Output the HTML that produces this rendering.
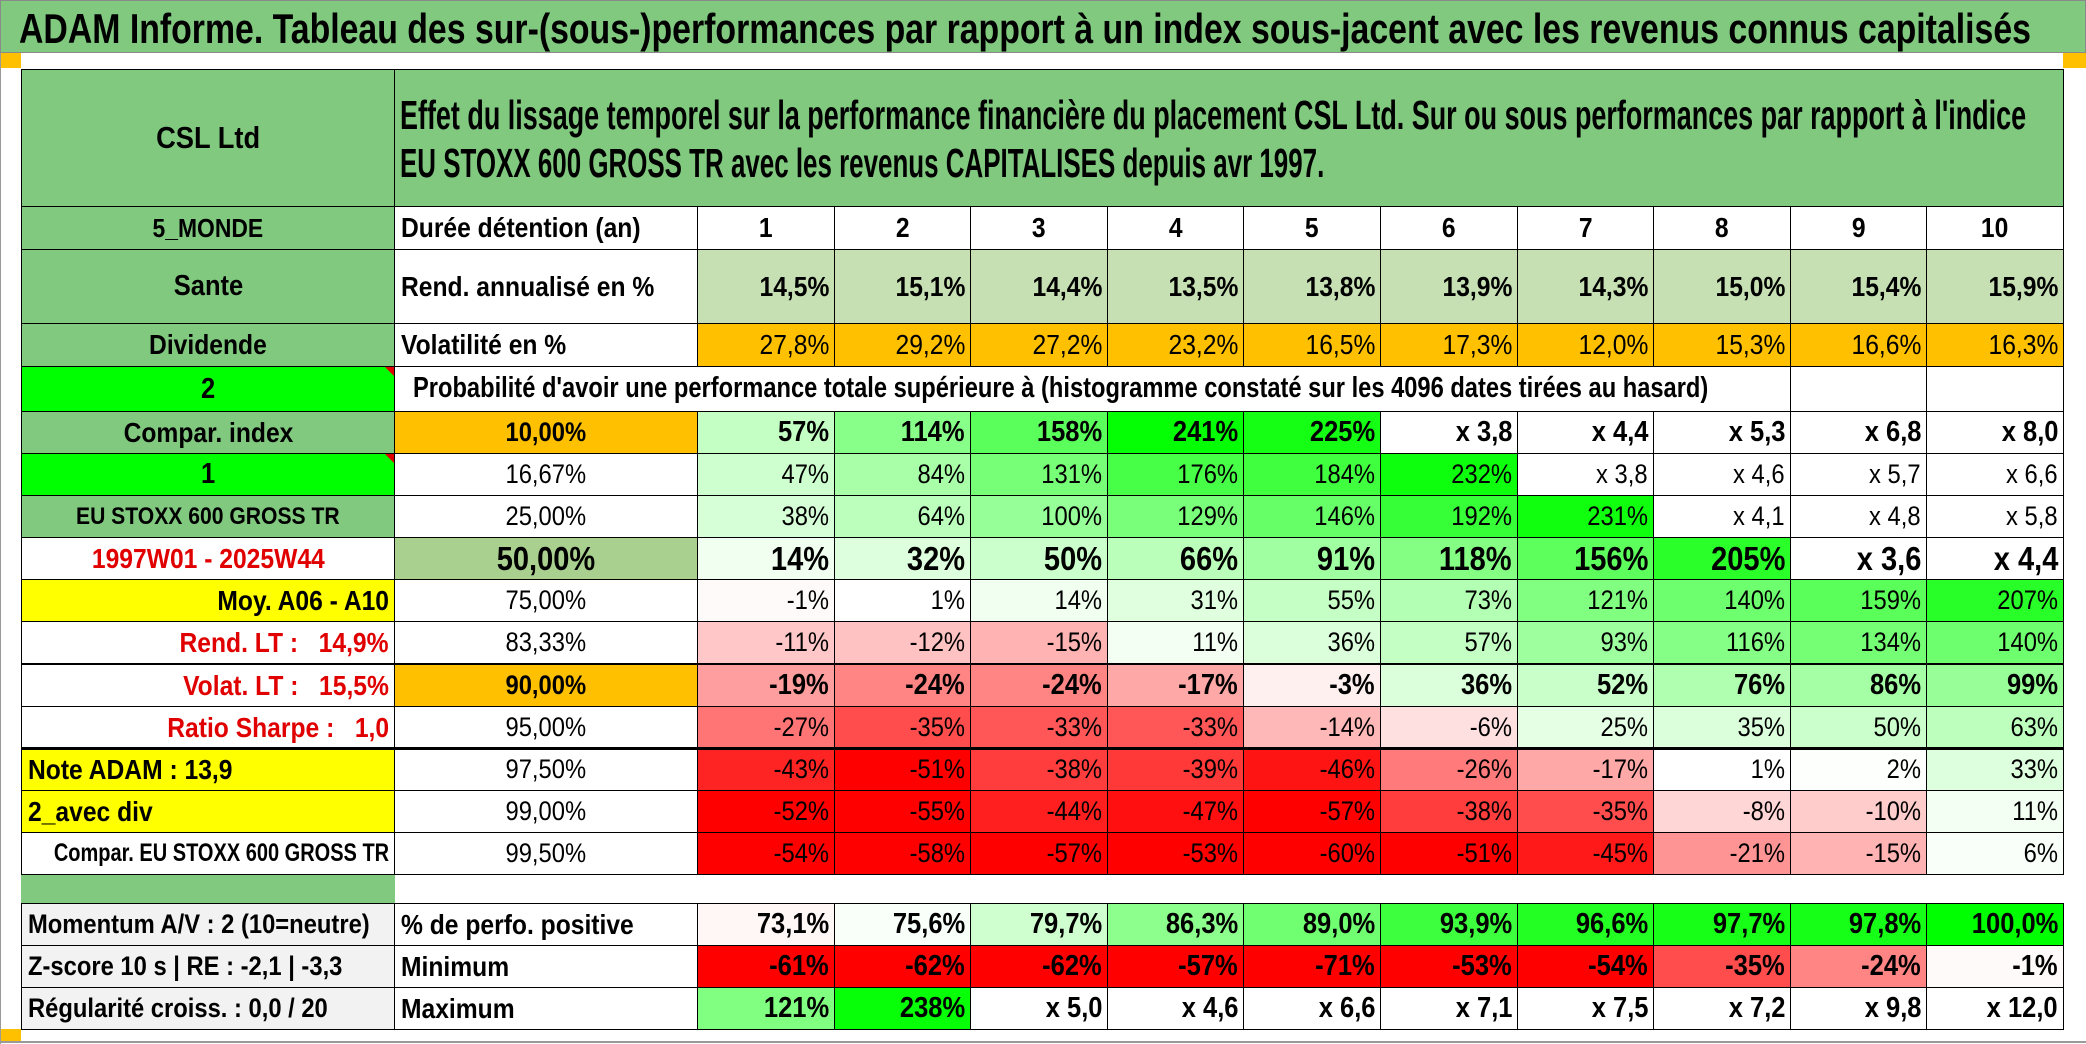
<!DOCTYPE html>
<html><head><meta charset="utf-8">
<style>
html,body{margin:0;padding:0;background:#fff;}
#root{position:relative;width:2086px;height:1044px;overflow:hidden;background:#fff;font-family:"Liberation Sans",sans-serif;color:#000;}
.c{position:absolute;box-sizing:border-box;display:flex;align-items:center;overflow:visible;white-space:pre;}
.c span{display:inline-block;transform:scaleX(0.88);}
.r{justify-content:flex-end;padding-right:5px;}
.r span{transform-origin:right center;}
.m{justify-content:center;}
.l{justify-content:flex-start;padding-left:6px;}
.l span{transform-origin:left center;}
.b{font-weight:bold;}
.fit{position:absolute;white-space:nowrap;font-weight:bold;transform-origin:left center;}
</style></head>
<body>
<div id="root">
  <div style="position:absolute;left:0;top:0;width:2086px;height:53px;background:#80c97f;border:1px solid #8a8a8a;box-sizing:border-box"></div>
  <div class="fit" id="title" style="left:19px;top:5px;font-size:42px;">ADAM Informe. Tableau des sur-(sous-)performances par rapport à un index sous-jacent avec les revenus connus capitalisés</div>
  <div style="position:absolute;left:0;top:53px;width:21px;height:15px;background:#ffc000"></div>
  <div style="position:absolute;left:2063px;top:53px;width:23px;height:15px;background:#ffc000"></div>
  <div style="position:absolute;left:0;top:1029px;width:21px;height:13px;background:#ffc000"></div>
  <div style="position:absolute;left:0;top:53px;width:1px;height:991px;background:#9a9a9a"></div>
  <div style="position:absolute;left:0;top:1041px;width:2086px;height:2px;background:#9a9a9a"></div>
</div>
<script>
const years = [1,2,3,4,5,6,7,8,9,10];
const rendValues = [14.5,15.1,14.4,13.5,13.8,13.9,14.3,15.0,15.4,15.9];
const volValues = [27.8,29.2,27.2,23.2,16.5,17.3,12.0,15.3,16.6,16.3];
const probLabels = ["10,00%","16,67%","25,00%","50,00%","75,00%","83,33%","90,00%","95,00%","97,50%","99,00%","99,50%"];
// percent gains; values >= 250 are shown as multiples "x N"
const row10 = [57,114,158,241,225,280,340,430,580,700];
const row16 = [47,84,131,176,184,232,280,360,470,560];
const row25 = [38,64,100,129,146,192,231,310,380,480];
const row50 = [14,32,50,66,91,118,156,205,260,340];
const row75 = [-1,1,14,31,55,73,121,140,159,207];
const row83 = [-11,-12,-15,11,36,57,93,116,134,140];
const row90 = [-19,-24,-24,-17,-3,36,52,76,86,99];
const row95 = [-27,-35,-33,-33,-14,-6,25,35,50,63];
const row975 = [-43,-51,-38,-39,-46,-26,-17,1,2,33];
const row99 = [-52,-55,-44,-47,-57,-38,-35,-8,-10,11];
const row995 = [-54,-58,-57,-53,-60,-51,-45,-21,-15,6];
const posValues = [73.1,75.6,79.7,86.3,89.0,93.9,96.6,97.7,97.8,100.0];
const minValues = [-61,-62,-62,-57,-71,-53,-54,-35,-24,-1];
const maxValues = [121,238,400,360,560,610,650,620,880,1100];

const root = document.getElementById('root');
const X0=21, X1=394, X2=697, CW=136.6;
const GREEN='#80c97f', ORANGE='#ffc000', LGREEN='#c6e0b4', BGREEN='#00ff00', YEL='#ffff00', GREY='#f2f2f2';
function colX(i){return Math.round(X2+i*CW);}
function colW(i){return colX(i+1)-colX(i);}
function cell(x,y,w,h,txt,o){
  o=o||{};
  x=Math.round(x);y=Math.round(y);w=Math.round(w);h=Math.round(h);
  const d=document.createElement('div');
  d.className='c '+(o.al||'m')+(o.b?' b':'');
  d.style.left=x+'px';d.style.top=y+'px';d.style.width=(w+1)+'px';d.style.height=(h+1)+'px';
  d.style.background=o.bg||'#fff';
  d.style.fontSize=(o.fs||26)+'px';
  if(o.color) d.style.color=o.color;
  d.style.border=o.nb?'0':'1px solid #000';
  
  
  if(txt!==''){const s=document.createElement('span');s.textContent=txt;if(o.sx)s.style.transform='scaleX('+o.sx+')';d.appendChild(s);}
  root.appendChild(d);
  return d;
}
function fmtPct(v){return v+'%';}
function fmtGain(v){return v>=250?'x '+((v+100)/100).toFixed(1).replace('.',','):v+'%';}
function heat(v){
  if(v>=250) return '#ffffff';
  if(v>=0){const t=Math.min(1,v/245);const c=Math.round(255*(1-t));return 'rgb('+c+',255,'+c+')';}
  const t=Math.min(1,-v/50);const c=Math.round(255*(1-t));return 'rgb(255,'+c+','+c+')';
}
function posHeat(v){
  const t=(v-75)/25;
  if(t>=0){const c=Math.round(255*(1-Math.min(1,t)));return 'rgb('+c+',255,'+c+')';}
  const c=Math.round(255+Math.max(-1,t)*120);return 'rgb(255,'+c+','+c+')';
}
function fmt1(v){return v.toFixed(1).replace('.',',')+'%';}

cell(X0,69,X1-X0,137,'CSL Ltd',{bg:GREEN,b:true,fs:31,name:'asset-name'});
cell(X1,69,2063-X1,137,'',{bg:GREEN,name:'header-description'});
cell(X0,206,X1-X0,43,'5_MONDE',{bg:GREEN,b:true,fs:26,name:'region-label'});
cell(X1,206,X2-X1,43,'Durée détention (an)',{al:'l',b:true,fs:28,name:'holding-period-label'});
years.forEach((y,i)=>cell(colX(i),206,colW(i),43,String(y),{b:true,fs:28,name:'year-header'}));
cell(X0,249,X1-X0,74,'Sante',{bg:GREEN,b:true,fs:29,name:'sector-label'});
cell(X1,249,X2-X1,74,'Rend. annualisé en %',{al:'l',b:true,fs:28,name:'annual-return-label'});
rendValues.forEach((v,i)=>cell(colX(i),249,colW(i),74,fmt1(v),{al:'r',b:true,fs:28,bg:LGREEN,name:'annual-return-value'}));
cell(X0,323,X1-X0,43,'Dividende',{bg:GREEN,b:true,fs:28,name:'dividend-label'});
cell(X1,323,X2-X1,43,'Volatilité en %',{al:'l',b:true,fs:28,name:'volatility-label'});
volValues.forEach((v,i)=>cell(colX(i),323,colW(i),43,fmt1(v),{al:'r',fs:28,bg:ORANGE,name:'volatility-value'}));
cell(X0,366,X1-X0,45,'2',{bg:BGREEN,b:true,fs:29,name:'setting-2'});
cell(X1,366,colX(8)-X1,45,'',{name:'probability-caption-cell'});
cell(colX(8),366,colW(8),45,'',{name:'empty-cell'});
cell(colX(9),366,colW(9),45,'',{name:'empty-cell'});

const leftLabels=[
 ['Compar. index',{bg:GREEN,b:true,fs:28}],
 ['1',{bg:BGREEN,b:true,fs:29}],
 ['EU STOXX 600 GROSS TR',{bg:GREEN,b:true,fs:24}],
 ['1997W01 - 2025W44',{b:true,fs:28,color:'#e00000'}],
 ['Moy. A06 - A10',{bg:YEL,b:true,fs:28,al:'r'}],
 ['Rend. LT :   14,9%',{b:true,fs:28,al:'r',color:'#e00000'}],
 ['Volat. LT :   15,5%',{b:true,fs:28,al:'r',color:'#e00000'}],
 ['Ratio Sharpe :   1,0',{b:true,fs:28,al:'r',color:'#e00000'}],
 ['Note ADAM : 13,9',{bg:YEL,b:true,fs:28,al:'l'}],
 ['2_avec div',{bg:YEL,b:true,fs:28,al:'l'}],
 ['Compar. EU STOXX 600 GROSS TR',{fs:25,al:'r',b:true,sx:0.8}]
];
const probRows=[row10,row16,row25,row50,row75,row83,row90,row95,row975,row99,row995];
const RH=(874-411)/11;
probRows.forEach((row,k)=>{
  const y=411+k*RH;
  const lab=leftLabels[k];
  const lo=Object.assign({name:'side-label'},lab[1]);
  cell(X0,y,X1-X0,RH,lab[0],lo);
  const bold=(k===0||k===3||k===6);
  const pbg=(k===0||k===6)?ORANGE:(k===3?'#a9d08e':'#fff');
  cell(X1,y,X2-X1,RH,probLabels[k],{b:bold,fs:k===3?33:27,bg:pbg,name:'probability-threshold'});
  row.forEach((v,i)=>cell(colX(i),y,colW(i),RH,fmtGain(v),{al:'r',b:bold,fs:k===3?33:(bold?29:27),bg:heat(v),name:'performance-cell'}));
});
const sep=document.createElement('div');
sep.style.cssText='position:absolute;left:'+X0+'px;top:'+Math.round(411+8*RH-1)+'px;width:'+(2063-X0)+'px;height:3px;background:#000';


root.appendChild(sep);
cell(X0,875,X1-X0,28,'',{bg:GREEN,nb:true,name:'blank-green'});
const botLabels=['Momentum A/V : 2 (10=neutre)','Z-score 10 s | RE : -2,1 | -3,3','Régularité croiss. : 0,0 / 20'];
const botNames=['% de perfo. positive','Minimum','Maximum'];
botLabels.forEach((t,k)=>{
  const y=903+k*42;
  cell(X0,y,X1-X0,42,t,{bg:GREY,b:true,fs:27,al:'l',name:'stat-label'});
  cell(X1,y,X2-X1,42,botNames[k],{b:true,fs:28,al:'l',name:'stat-name'});
});
posValues.forEach((v,i)=>cell(colX(i),903,colW(i),42,fmt1(v),{al:'r',b:true,fs:29,bg:posHeat(v),name:'positive-share-value'}));
minValues.forEach((v,i)=>cell(colX(i),945,colW(i),42,fmtPct(v),{al:'r',b:true,fs:29,bg:heat(v),name:'minimum-value'}));
maxValues.forEach((v,i)=>cell(colX(i),987,colW(i),42,fmtGain(v),{al:'r',b:true,fs:29,bg:heat(v),name:'maximum-value'}));
[366,411+RH].forEach(yy=>{
  const t=document.createElement('div');
  t.style.cssText='position:absolute;left:'+(X1-9)+'px;top:'+Math.round(yy+1)+'px;width:0;height:0;border-left:9px solid transparent;border-top:9px solid #e00000';
  
  
  root.appendChild(t);
});
function fitText(id,txt,x,y,w,fs,name){
  const d=document.createElement('div');
  d.className='fit';d.id=id;d.textContent=txt;
  d.style.left=x+'px';d.style.top=y+'px';d.style.fontSize=fs+'px';
  
  
  root.appendChild(d);
  return [d,w];
}
const fits=[
  fitText('h1',"Effet du lissage temporel sur la performance financière du placement CSL Ltd. Sur ou sous performances par rapport à l'indice",400,92,1626,41,'header-line-1'),
  fitText('h2',"EU STOXX 600 GROSS TR avec les revenus CAPITALISES depuis avr 1997.",400,140,924,41,'header-line-2'),
  fitText('pc',"Probabilité d'avoir une performance totale supérieure à (histogramme constaté sur les 4096 dates tirées au hasard)",413,372,1295,29,'probability-caption')
];
fits.push([document.getElementById('title'),2012]);
fits.forEach(([d,w])=>{const sw=d.scrollWidth||d.getBoundingClientRect().width;if(sw>0)d.style.transform='scaleX('+(w/sw)+')';});
</script>
</body></html>
